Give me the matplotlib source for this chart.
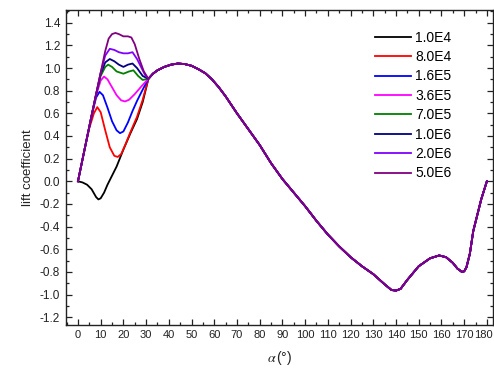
import matplotlib
matplotlib.use("Agg")
import numpy as np
from matplotlib import pyplot as plt
from matplotlib.ticker import MultipleLocator, FormatStrFormatter
from matplotlib.transforms import ScaledTranslation

# Reynolds numbers (legend labels)
etiquetas = ['1.0E4', '8.0E4', '1.6E5', '3.6E5', '7.0E5', '1.0E6', '2.0E6', '5.0E6']
colores = ['#000000', '#ff0000', '#0000ff', '#ff00ff', '#008000', '#000080', '#8000ff', '#800080']

# low angle part, different for each Re (alpha in degrees, lift coefficient)
alfa_1e4 = [0, 2, 4, 6, 8, 9, 10, 11.5, 13, 15, 17, 20, 23, 26, 28.5, 31]
cl_1e4 = [0, -0.01, -0.03, -0.07, -0.14, -0.16, -0.15, -0.1, -0.03, 0.05, 0.13, 0.28, 0.42, 0.55, 0.7, 0.905]

alfa_8e4 = [0, 3, 5, 7, 8.5, 10, 12, 14, 16, 17.5, 19, 21, 23, 26, 28.5, 31]
cl_8e4 = [0, 0.29, 0.47, 0.6, 0.655, 0.61, 0.45, 0.3, 0.225, 0.215, 0.24, 0.33, 0.43, 0.57, 0.72, 0.905]

alfa_16e5 = [0, 3, 6, 8, 9.5, 11, 13, 15, 17, 18.5, 20, 22, 24, 26, 28.5, 31]
cl_16e5 = [0, 0.29, 0.58, 0.74, 0.79, 0.76, 0.65, 0.53, 0.45, 0.425, 0.44, 0.52, 0.62, 0.71, 0.81, 0.905]

alfa_36e5 = [0, 3, 6, 8, 10, 11.5, 13, 15, 17, 19, 20.7, 22.5, 25, 28, 31]
cl_36e5 = [0, 0.29, 0.58, 0.76, 0.89, 0.925, 0.9, 0.83, 0.76, 0.715, 0.705, 0.72, 0.77, 0.84, 0.905]

alfa_7e5 = [0, 3, 6, 8, 10, 12, 13.3, 15, 17, 20, 22.5, 24.4, 26.5, 28.5, 31]
cl_7e5 = [0, 0.29, 0.58, 0.77, 0.93, 1.01, 1.03, 1.01, 0.97, 0.95, 0.97, 0.98, 0.93, 0.895, 0.905]

alfa_1e6 = [0, 3, 6, 8, 10, 12, 14, 16, 18, 20, 22, 24, 26, 28.5, 31]
cl_1e6 = [0, 0.29, 0.58, 0.77, 0.95, 1.05, 1.08, 1.06, 1.03, 1.01, 1.03, 1.04, 1.0, 0.93, 0.905]

alfa_2e6 = [0, 3, 6, 8, 10, 12, 14, 16, 18, 20, 22, 24, 26, 28, 29.5, 31]
cl_2e6 = [0, 0.29, 0.58, 0.77, 0.96, 1.11, 1.17, 1.16, 1.14, 1.13, 1.13, 1.14, 1.08, 1.0, 0.94, 0.905]

alfa_5e6 = [0, 3, 6, 8, 10, 12, 13.5, 15, 16.5, 18, 20, 22, 23.5, 25, 27, 29, 31]
cl_5e6 = [0, 0.29, 0.58, 0.77, 0.96, 1.15, 1.26, 1.30, 1.31, 1.30, 1.28, 1.28, 1.27, 1.21, 1.08, 0.97, 0.905]

# post stall part, common to every Re
alfa_comun = [33, 35, 38, 41, 44, 47, 50, 53, 56, 59, 62, 65, 70, 75, 80, 85, 90, 95, 100,
              105, 110, 115, 120, 125, 130, 135, 138, 140, 142, 145, 150, 155, 159, 162,
              165, 167, 169, 170, 171, 172.5, 174, 176, 177.5, 180]
cl_comun = [0.95, 0.98, 1.01, 1.03, 1.04, 1.035, 1.02, 0.99, 0.955, 0.9, 0.83, 0.75, 0.6,
            0.46, 0.32, 0.16, 0.02, -0.1, -0.22, -0.35, -0.47, -0.575, -0.67, -0.75, -0.82,
            -0.91, -0.96, -0.965, -0.95, -0.87, -0.75, -0.68, -0.655, -0.67, -0.72, -0.77,
            -0.8, -0.795, -0.76, -0.64, -0.44, -0.28, -0.16, 0]

alfas = [alfa_1e4, alfa_8e4, alfa_16e5, alfa_36e5, alfa_7e5, alfa_1e6, alfa_2e6, alfa_5e6]
cls = [cl_1e4, cl_8e4, cl_16e5, cl_36e5, cl_7e5, cl_1e6, cl_2e6, cl_5e6]

plt.rcParams['font.family'] = ['Liberation Sans', 'DejaVu Sans']
plt.rcParams['mathtext.fontset'] = 'stix'

fig = plt.figure(figsize=(4.94, 3.73), dpi=100)
ax = fig.add_axes([0.133, 0.129, 0.865, 0.844])

for alfa, cl, color, etiqueta in zip(alfas, cls, colores, etiquetas):
    x = list(alfa) + alfa_comun
    y = list(cl) + cl_comun
    ax.plot(x, y, color=color, lw=1.3, label=etiqueta)

ax.set_xlim(-5.4, 182.7)
ax.set_ylim(-1.268, 1.512)
ax.xaxis.set_major_locator(MultipleLocator(10))
ax.xaxis.set_minor_locator(MultipleLocator(5))
ax.yaxis.set_major_locator(MultipleLocator(0.2))
ax.yaxis.set_minor_locator(MultipleLocator(0.1))
ax.yaxis.set_major_formatter(FormatStrFormatter('%.1f'))
ax.tick_params(which='both', direction='in', top=True, right=True, labelsize=8.5,
               colors='#222222', width=0.9)
ax.tick_params(axis='x', labelsize=8)
ax.tick_params(which='major', length=4, pad=4)
ax.tick_params(which='minor', length=2)
for s in ax.spines.values():
    s.set_linewidth(1.0)
    s.set_color('#222222')

ax.set_xlabel(r'$\alpha\,$(°)', fontsize=10, color='#222222', labelpad=6)
ax.set_ylabel('lift coefficient', fontsize=9.5, color='#222222', labelpad=4)

ax.legend(loc='upper left', bbox_to_anchor=(0.724, 0.935), frameon=False, fontsize=10,
          handlelength=2.6, handletextpad=0.3, labelspacing=0.39, borderpad=0,
          borderaxespad=0)

# el ultimo numero del eje x queda pegado al borde: se desplaza un poco a la izquierda
fig.canvas.draw()
for tick in ax.xaxis.get_major_ticks():
    if abs(tick.get_loc() - 180) < 1e-6:
        tick.label1.set_transform(tick.label1.get_transform() +
                                  ScaledTranslation(-2.2 / 72, 0, fig.dpi_scale_trans))

fig.savefig('out.png', dpi=100)
